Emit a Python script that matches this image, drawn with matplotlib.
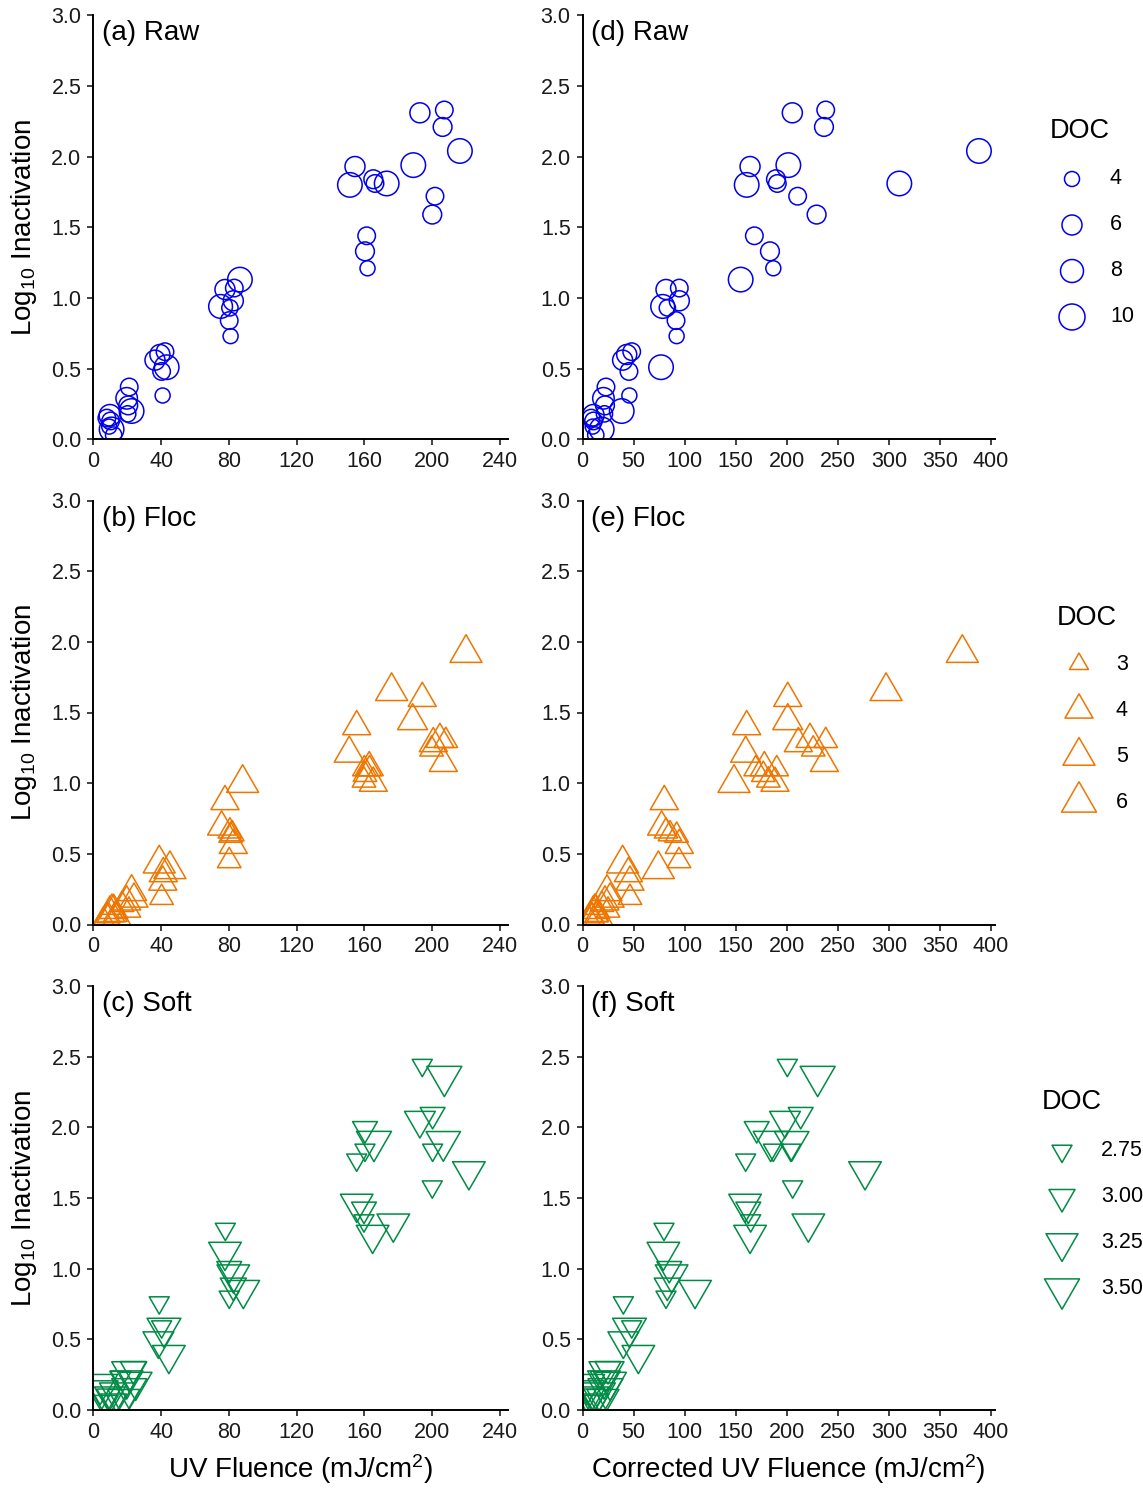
import numpy as np
import matplotlib.pyplot as plt
from matplotlib.path import Path

plt.rcParams['font.family'] = ['Liberation Sans', 'DejaVu Sans']
plt.rcParams['mathtext.default'] = 'regular'

# ---- data ----
# Raw water
raw_fluence = [192.7, 207.1, 206.1, 216.3, 154.4, 151.4, 165.2, 166.2, 173.1, 188.8,
               201.6, 200.0, 161.3, 160.3, 161.8, 86.5, 77.7, 83.2, 75.1, 82.6,
               80.6, 80.2, 81.0, 43.3, 36.4, 39.3, 42.3, 40.3, 40.9, 21.2,
               19.7, 20.6, 22.6, 20.3, 9.8, 10.2, 10.8, 9.4, 8.0, 12.0]
raw_fluence_corr = [205.5, 238.2, 236.5, 388.3, 164.1, 160.8, 189.5, 190.8, 310.3, 201.6,
                    210.7, 229.3, 168.3, 183.6, 186.9, 154.9, 81.8, 94.8, 78.5, 94.8,
                    83.1, 91.6, 92.2, 76.9, 39.3, 43.3, 48.2, 45.5, 45.9, 23.0,
                    20.5, 22.0, 38.4, 21.5, 10.6, 10.8, 18.8, 10.0, 8.5, 13.0]
raw_log = [2.31, 2.33, 2.21, 2.04, 1.93, 1.80, 1.84, 1.81, 1.81, 1.94,
           1.72, 1.59, 1.44, 1.33, 1.21, 1.13, 1.06, 1.07, 0.94, 0.98,
           0.93, 0.84, 0.73, 0.51, 0.56, 0.60, 0.62, 0.48, 0.31, 0.37,
           0.29, 0.24, 0.20, 0.18, 0.17, 0.13, 0.07, 0.09, 0.15, 0.03]
raw_doc = [6, 5, 5.5, 9, 6, 9, 5.5, 5, 9, 9,
           5, 5.5, 5, 5.5, 4, 9, 6, 5, 8.5, 6,
           4.5, 5, 4, 9, 6, 6, 5, 5, 4, 5,
           7, 5.5, 9, 4.5, 7, 5, 9, 4, 5, 4.5]

# Flocculated water
floc_fluence = [219.9, 176.0, 194.1, 188.4, 155.4, 151.0, 204.5, 200.6, 208.0, 199.6,
                206.5, 159.9, 162.8, 160.3, 165.2, 159.7, 163.0, 88.1, 77.7, 75.7,
                80.6, 82.0, 81.0, 82.6, 80.2, 38.9, 45.2, 41.3, 41.0, 40.3,
                22.6, 19.7, 21.0, 9.8, 9.0, 6.0, 14.0, 11.0,
                12.0, 8.0, 17.0, 24.0, 13.0]
floc_fluence_corr = [372.0, 297.3, 201.0, 201.0, 160.8, 159.8, 222.8, 211.4, 238.2, 226.0,
                     236.9, 169.6, 178.1, 177.1, 188.5, 182.0, 190.2, 148.4, 80.1, 77.5,
                     81.8, 85.7, 92.2, 94.8, 94.5, 39.3, 74.3, 44.9, 46.5, 46.5,
                     24.0, 22.0, 25.0, 10.5, 9.5, 7.0, 16.0, 12.0,
                     13.0, 9.0, 19.0, 27.0, 14.0]
floc_log = [1.92, 1.65, 1.60, 1.44, 1.40, 1.21, 1.31, 1.28, 1.30, 1.24,
            1.14, 1.10, 1.11, 1.06, 1.00, 1.02, 1.10, 1.00, 0.87, 0.69,
            0.66, 0.64, 0.63, 0.56, 0.45, 0.43, 0.39, 0.36, 0.30, 0.19,
            0.23, 0.16, 0.10, 0.08, 0.06, 0.03, 0.05, 0.12,
            0.10, 0.04, 0.14, 0.18, 0.07]
floc_doc = [5, 5, 4, 4.5, 4, 4.5, 4, 4, 3.5, 3.5,
            4, 3.5, 4, 3.5, 4, 3.5, 3.5, 5, 4, 4,
            3.5, 3.5, 3.5, 4, 3.5, 5, 5, 4, 4, 3.5,
            4.5, 4, 3.5, 4.5, 3.5, 3.5, 4, 3.5,
            4, 4, 3.5, 4, 3.5]

# Softened water
soft_fluence = [194.1, 207.1, 192.7, 200.2, 206.5, 200.2, 221.6, 200.0, 160.3, 165.6,
                160.3, 155.4, 155.4, 159.7, 159.7, 164.8, 177.0, 77.9, 77.7, 80.2,
                82.6, 88.5, 80.2, 82.6, 38.9, 41.7, 40.3, 38.4, 44.6, 21.2,
                23.6, 19.7, 21.2, 9.8, 9.0, 4.0, 12.0, 16.0,
                5.0, 14.0, 25.0, 7.0, 18.0]
soft_fluence_corr = [200.6, 230.3, 198.3, 213.7, 204.9, 204.0, 276.7, 205.8, 170.6, 184.3,
                     186.9, 159.8, 159.2, 162.4, 164.7, 164.1, 221.2, 79.8, 79.2, 85.0,
                     87.3, 110.2, 81.8, 83.0, 40.0, 46.0, 48.2, 40.0, 54.7, 23.5,
                     25.0, 21.0, 22.5, 10.5, 9.8, 4.5, 13.0, 18.0,
                     5.5, 15.0, 27.0, 7.5, 20.0]
soft_log = [2.44, 2.36, 2.05, 2.09, 1.90, 1.84, 1.69, 1.58, 1.99, 1.90,
            1.84, 1.77, 1.46, 1.42, 1.34, 1.24, 1.32, 1.28, 1.12, 1.00,
            0.96, 0.85, 0.80, 0.88, 0.76, 0.58, 0.59, 0.49, 0.39, 0.27,
            0.29, 0.21, 0.15, 0.10, 0.10, 0.18, 0.06, 0.23,
            0.14, 0.12, 0.20, 0.05, 0.08]
soft_doc = [2.7, 3.55, 3.2, 2.95, 3.45, 2.75, 3.3, 2.75, 2.95, 3.55,
            2.6, 2.7, 3.3, 2.95, 2.75, 3.3, 3.3, 2.7, 3.3, 2.95,
            3.3, 3.3, 2.75, 3.0, 2.7, 3.4, 2.75, 3.2, 3.3, 3.5,
            3.0, 3.3, 3.5, 3.2, 2.9, 3.5, 3.0, 2.8,
            3.3, 3.5, 3.3, 3.0, 3.25]

raw_keys = [4, 6, 8, 10]
raw_key_labels = ['4', '6', '8', '10']
floc_keys = [3, 4, 5, 6]
floc_key_labels = ['3', '4', '5', '6']
soft_keys = [2.75, 3.00, 3.25, 3.50]
soft_key_labels = ['2.75', '3.00', '3.25', '3.50']

# ---- styling ----
W, H = 1143, 1489
DPI = 100
PX = 72.0 / DPI

up_tri = Path([(0, 1), (-0.866, -0.5), (0.866, -0.5), (0, 1)], closed=True)
down_tri = Path([(0, -1), (-0.866, 0.5), (0.866, 0.5), (0, -1)], closed=True)

panels = [
    # label_left, label_right, x, x_corr, y, doc, keys, key px widths, marker, colour, ms factor
    ('(a) Raw', '(d) Raw', raw_fluence, raw_fluence_corr, raw_log, raw_doc,
     raw_keys, raw_key_labels, [15, 20, 23, 26], 'o', '#0000EE', 1.0),
    ('(b) Floc', '(e) Floc', floc_fluence, floc_fluence_corr, floc_log, floc_doc,
     floc_keys, floc_key_labels, [19, 28, 32, 35], up_tri, '#EE7600', 1 / 0.866),
    ('(c) Soft', '(f) Soft', soft_fluence, soft_fluence_corr, soft_log, soft_doc,
     soft_keys, soft_key_labels, [20, 26, 32, 35], down_tri, '#008B45', 1 / 0.866),
]

# pixel layout: y of zero line and top of each row
row_zero = [439.3, 924.5, 1410.0]
row_h = 424.0
left_x0, left_w, left_xmax = 93.3, 414.4, 244.5
right_x0, right_w, right_xmax = 582.5, 412.5, 404

legend_pos = [  # title x, title baseline, marker x, label x, first key y, step
    (1050, 138, 1072, 1110, 179, 46),
    (1057, 625, 1079, 1116, 664, 46),
    (1042, 1109, 1062, 1101, 1151, 46),
]

fig = plt.figure(figsize=(W / DPI, H / DPI), dpi=DPI)
overlay = fig.add_axes([0, 0, 1, 1])
overlay.set_xlim(0, W)
overlay.set_ylim(H, 0)
overlay.axis('off')


def size_of(doc, keys, widths, factor):
    px = np.interp(doc, keys, widths)
    return (px * PX * factor) ** 2


def style_axes(ax, xmax, xticks):
    ax.set_xlim(0, xmax)
    ax.set_ylim(0, 3.0)
    ax.set_xticks(xticks)
    ax.set_yticks(np.arange(0, 3.01, 0.5))
    ax.yaxis.set_major_formatter(plt.FormatStrFormatter('%.1f'))
    for s in ['top', 'right']:
        ax.spines[s].set_visible(False)
    for s in ['left', 'bottom']:
        ax.spines[s].set_linewidth(1.4)
        ax.spines[s].set_color('black')
    ax.tick_params(direction='out', length=4, width=1.3, color='#333333',
                   labelsize=15.5, labelcolor='#1a1a1a', pad=4.5)
    ax.set_facecolor('none')


for r, (lab_l, lab_r, xr, xc, yv, dv, keys, klabels, kw, mk, col, fac) in enumerate(panels):
    bottom = (H - row_zero[r]) / H
    height = row_h / H
    ax_l = fig.add_axes([left_x0 / W, bottom, left_w / W, height])
    ax_r = fig.add_axes([right_x0 / W, bottom, right_w / W, height])
    sizes = size_of(np.array(dv), keys, kw, fac)
    for ax, xs, lab in [(ax_l, xr, lab_l), (ax_r, xc, lab_r)]:
        ax.scatter(xs, yv, s=sizes, marker=mk, facecolors='none',
                   edgecolors=col, linewidths=1.1)
        ax.annotate(lab, xy=(0, 1), xycoords='axes fraction', xytext=(6.3, -18),
                    textcoords='offset points', ha='left', va='baseline', fontsize=20)
    style_axes(ax_l, left_xmax, np.arange(0, 241, 40))
    style_axes(ax_r, right_xmax, np.arange(0, 401, 50))
    ax_l.set_ylabel('Log$_{10}$ Inactivation', fontsize=20, labelpad=9)
    if r == 2:
        ax_l.set_xlabel('UV Fluence (mJ/cm$^2$)', fontsize=20, labelpad=7)
        ax_r.set_xlabel('Corrected UV Fluence (mJ/cm$^2$)', fontsize=20, labelpad=7)

    # legend
    tx, tb, mx, lx, ky, step = legend_pos[r]
    overlay.text(tx, tb, 'DOC', fontsize=19.5, ha='left', va='baseline')
    for i, (k, kl) in enumerate(zip(keys, klabels)):
        yk = ky + i * step
        overlay.scatter([mx], [yk], s=size_of(k, keys, kw, fac), marker=mk,
                        facecolors='none', edgecolors=col, linewidths=1.1, clip_on=False)
        overlay.text(lx, yk, kl, fontsize=15.5, ha='left', va='center')

fig.savefig('out.png', dpi=DPI)
